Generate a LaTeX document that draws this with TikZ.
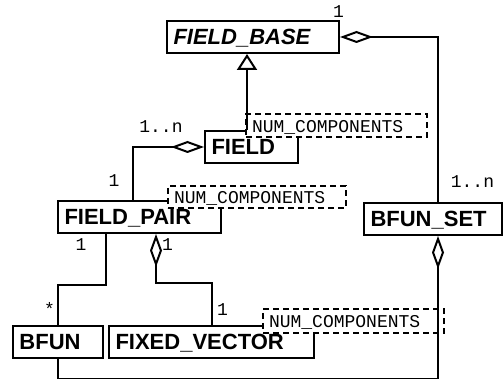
\documentclass[tikz,border=0pt]{standalone}
\usepackage{fontspec}
\setsansfont{Liberation Sans}
\setmonofont{Liberation Mono}
\usetikzlibrary{arrows.meta}
\begin{document}
\begin{tikzpicture}[x=1pt,y=-1pt,
  cls/.style={draw, line width=2pt, anchor=north west, minimum height=32pt,
    inner xsep=6.5pt, inner ysep=0pt, align=left, text height=16pt, text depth=0pt,
    font=\sffamily\bfseries\fontsize{22}{22}\selectfont},
  tmpl/.style={draw, dash pattern=on 6pt off 4pt, line width=2pt, fill=white,
    anchor=north west, inner xsep=6pt, inner ysep=0pt, align=left,
    text height=14pt, text depth=0pt, font=\ttfamily\fontsize{18}{18}\selectfont},
  mult/.style={anchor=base, inner sep=0pt, font=\ttfamily\fontsize{18}{18}\selectfont},
  conn/.style={line width=2pt},
  agg/.style={conn, -{Diamond[open, length=33pt, width=12pt, line width=2pt]}},
  inherit/.style={conn, -{Triangle[open, length=16pt, width=20pt, line width=2pt]}},
]
\useasboundingbox (0,0) rectangle (504,379);

% classes
\node[cls, minimum width=172pt, text width=159pt, font=\sffamily\bfseries\itshape\fontsize{22}{22}\selectfont] (fieldbase) at (166,20) {FIELD\_BASE};
\node[cls, minimum width=93pt, text width=80pt] (field) at (204,130) {FIELD};
\node[cls, minimum width=163pt, text width=150pt] (fieldpair) at (57,200) {FIELD\_PAIR};
\node[cls, minimum width=138pt, text width=125pt] (bfunset) at (363,202) {BFUN\_SET};
\node[cls, minimum width=90pt, text width=77pt] (bfun) at (12,325) {BFUN};
\node[cls, minimum width=205pt, text width=192pt] (fixedvector) at (108,325) {FIXED\_VECTOR};

% template parameters
\node[tmpl, minimum width=181pt, minimum height=23pt, text width=169pt] (t1) at (245,113) {NUM\_COMPONENTS};
\node[tmpl, minimum width=178pt, minimum height=22pt, text width=166pt] (t2) at (167,185) {NUM\_COMPONENTS};
\node[tmpl, minimum width=181pt, minimum height=24pt, text width=169pt] (t3) at (262,308) {NUM\_COMPONENTS};

% connectors
\draw[inherit] ([xshift=-4.5pt]field.north) -- ([xshift=-4.5pt]field.north |- fieldbase.south);
\draw[agg] ([xshift=5pt]bfunset.north) |- (fieldbase.east);
\draw[agg] ([xshift=-6.5pt]fieldpair.north) |- (field.west);
\draw[conn] ([xshift=-33.5pt]fieldpair.south) -- ++(0,51) -| (bfun.north);
\draw[agg] (fixedvector.north) -- ++(0,-42) -| ([xshift=16.5pt]fieldpair.south);
\draw[agg] (bfun.south) -- ++(0,20) -| ([xshift=5pt]bfunset.south);

% multiplicities
\node[mult] (m1) at (338.5,18) {1};
\node[mult] (m2) at (161,133) {1..n};
\node[mult] (m3) at (114,187) {1};
\node[mult] (m4) at (472.5,188) {1..n};
\node[mult] (m5) at (81,251) {1};
\node[mult] (m6) at (167.5,251) {1};
\node[mult] (m7) at (49.5,316) {*};
\node[mult] (m8) at (222.5,316) {1};
\end{tikzpicture}
\end{document}
